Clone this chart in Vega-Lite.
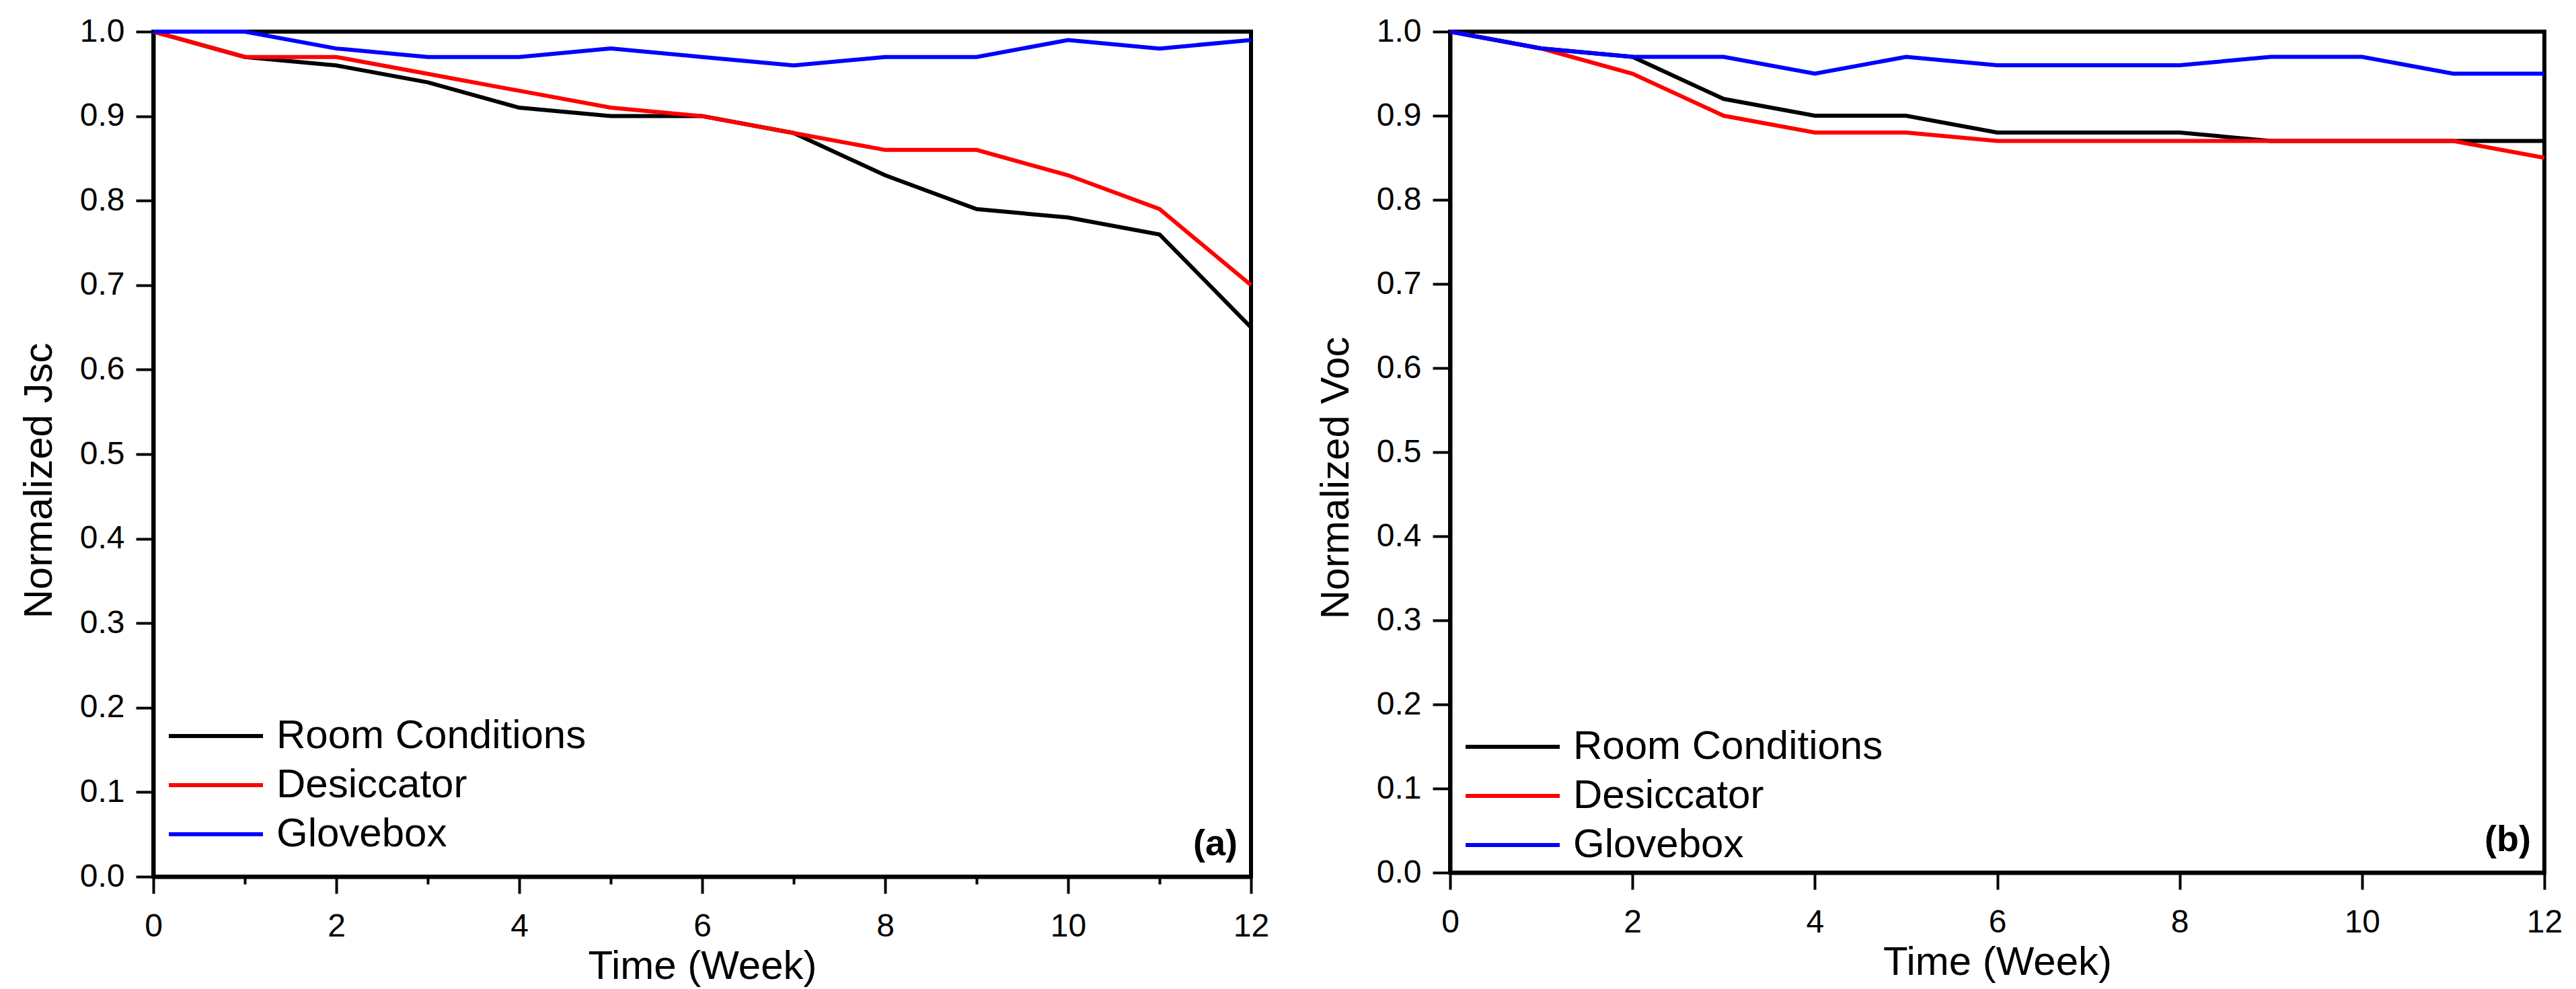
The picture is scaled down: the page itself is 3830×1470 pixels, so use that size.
{
  "$schema": "https://vega.github.io/schema/vega-lite/v6.json",
  "description": "Normalized Jsc and Voc of devices stored under room conditions, in a desiccator and in a glovebox over 12 weeks",
  "background": "white",
  "padding": {"left": 25, "top": 20, "right": 20, "bottom": 10},
  "datasets": {
    "jsc": [
      {"week": 0, "value": 1.0, "condition": "Room Conditions"},
      {"week": 1, "value": 0.97, "condition": "Room Conditions"},
      {"week": 2, "value": 0.96, "condition": "Room Conditions"},
      {"week": 3, "value": 0.94, "condition": "Room Conditions"},
      {"week": 4, "value": 0.91, "condition": "Room Conditions"},
      {"week": 5, "value": 0.90, "condition": "Room Conditions"},
      {"week": 6, "value": 0.90, "condition": "Room Conditions"},
      {"week": 7, "value": 0.88, "condition": "Room Conditions"},
      {"week": 8, "value": 0.83, "condition": "Room Conditions"},
      {"week": 9, "value": 0.79, "condition": "Room Conditions"},
      {"week": 10, "value": 0.78, "condition": "Room Conditions"},
      {"week": 11, "value": 0.76, "condition": "Room Conditions"},
      {"week": 12, "value": 0.65, "condition": "Room Conditions"},
      {"week": 0, "value": 1.0, "condition": "Desiccator"},
      {"week": 1, "value": 0.97, "condition": "Desiccator"},
      {"week": 2, "value": 0.97, "condition": "Desiccator"},
      {"week": 3, "value": 0.95, "condition": "Desiccator"},
      {"week": 4, "value": 0.93, "condition": "Desiccator"},
      {"week": 5, "value": 0.91, "condition": "Desiccator"},
      {"week": 6, "value": 0.90, "condition": "Desiccator"},
      {"week": 7, "value": 0.88, "condition": "Desiccator"},
      {"week": 8, "value": 0.86, "condition": "Desiccator"},
      {"week": 9, "value": 0.86, "condition": "Desiccator"},
      {"week": 10, "value": 0.83, "condition": "Desiccator"},
      {"week": 11, "value": 0.79, "condition": "Desiccator"},
      {"week": 12, "value": 0.70, "condition": "Desiccator"},
      {"week": 0, "value": 1.0, "condition": "Glovebox"},
      {"week": 1, "value": 1.0, "condition": "Glovebox"},
      {"week": 2, "value": 0.98, "condition": "Glovebox"},
      {"week": 3, "value": 0.97, "condition": "Glovebox"},
      {"week": 4, "value": 0.97, "condition": "Glovebox"},
      {"week": 5, "value": 0.98, "condition": "Glovebox"},
      {"week": 6, "value": 0.97, "condition": "Glovebox"},
      {"week": 7, "value": 0.96, "condition": "Glovebox"},
      {"week": 8, "value": 0.97, "condition": "Glovebox"},
      {"week": 9, "value": 0.97, "condition": "Glovebox"},
      {"week": 10, "value": 0.99, "condition": "Glovebox"},
      {"week": 11, "value": 0.98, "condition": "Glovebox"},
      {"week": 12, "value": 0.99, "condition": "Glovebox"}
    ],
    "voc": [
      {"week": 0, "value": 1.0, "condition": "Room Conditions"},
      {"week": 1, "value": 0.98, "condition": "Room Conditions"},
      {"week": 2, "value": 0.97, "condition": "Room Conditions"},
      {"week": 3, "value": 0.92, "condition": "Room Conditions"},
      {"week": 4, "value": 0.90, "condition": "Room Conditions"},
      {"week": 5, "value": 0.90, "condition": "Room Conditions"},
      {"week": 6, "value": 0.88, "condition": "Room Conditions"},
      {"week": 7, "value": 0.88, "condition": "Room Conditions"},
      {"week": 8, "value": 0.88, "condition": "Room Conditions"},
      {"week": 9, "value": 0.87, "condition": "Room Conditions"},
      {"week": 10, "value": 0.87, "condition": "Room Conditions"},
      {"week": 11, "value": 0.87, "condition": "Room Conditions"},
      {"week": 12, "value": 0.87, "condition": "Room Conditions"},
      {"week": 0, "value": 1.0, "condition": "Desiccator"},
      {"week": 1, "value": 0.98, "condition": "Desiccator"},
      {"week": 2, "value": 0.95, "condition": "Desiccator"},
      {"week": 3, "value": 0.90, "condition": "Desiccator"},
      {"week": 4, "value": 0.88, "condition": "Desiccator"},
      {"week": 5, "value": 0.88, "condition": "Desiccator"},
      {"week": 6, "value": 0.87, "condition": "Desiccator"},
      {"week": 7, "value": 0.87, "condition": "Desiccator"},
      {"week": 8, "value": 0.87, "condition": "Desiccator"},
      {"week": 9, "value": 0.87, "condition": "Desiccator"},
      {"week": 10, "value": 0.87, "condition": "Desiccator"},
      {"week": 11, "value": 0.87, "condition": "Desiccator"},
      {"week": 12, "value": 0.85, "condition": "Desiccator"},
      {"week": 0, "value": 1.0, "condition": "Glovebox"},
      {"week": 1, "value": 0.98, "condition": "Glovebox"},
      {"week": 2, "value": 0.97, "condition": "Glovebox"},
      {"week": 3, "value": 0.97, "condition": "Glovebox"},
      {"week": 4, "value": 0.95, "condition": "Glovebox"},
      {"week": 5, "value": 0.97, "condition": "Glovebox"},
      {"week": 6, "value": 0.96, "condition": "Glovebox"},
      {"week": 7, "value": 0.96, "condition": "Glovebox"},
      {"week": 8, "value": 0.96, "condition": "Glovebox"},
      {"week": 9, "value": 0.97, "condition": "Glovebox"},
      {"week": 10, "value": 0.97, "condition": "Glovebox"},
      {"week": 11, "value": 0.95, "condition": "Glovebox"},
      {"week": 12, "value": 0.95, "condition": "Glovebox"}
    ],
    "tagA": [{"week": 12, "value": 0, "tag": "(a)"}],
    "tagB": [{"week": 12, "value": 0, "tag": "(b)"}]
  },
  "spacing": 296,
  "bounds": "flush",
  "resolve": {"legend": {"color": "independent"}},
  "hconcat": [
    {
      "width": 1632,
      "height": 1256,
      "layer": [
        {
          "data": {"name": "jsc"},
          "mark": {"type": "line", "strokeWidth": 6},
          "encoding": {
            "x": {
              "field": "week", "type": "quantitative",
              "scale": {"domain": [0, 12], "nice": false},
              "axis": {
                "title": "Time (Week)",
                "values": [0, 1, 2, 3, 4, 5, 6, 7, 8, 9, 10, 11, 12],
                "format": "d",
                "labelExpr": "datum.value % 2 === 0 ? datum.label : ''",
                "tickSize": {"condition": {"test": "datum.value % 2 !== 0", "value": 11}, "value": 25},
                "labelPadding": 25,
                "titlePadding": 6
              }
            },
            "y": {
              "field": "value", "type": "quantitative",
              "scale": {"domain": [0, 1], "nice": false},
              "axis": {
                "title": "Normalized Jsc",
                "values": [0, 0.1, 0.2, 0.3, 0.4, 0.5, 0.6, 0.7, 0.8, 0.9, 1.0],
                "format": ".1f",
                "tickSize": 26,
                "labelPadding": 17,
                "titlePadding": 29,
                "titleY": 667
              }
            },
            "color": {
              "field": "condition", "type": "nominal",
              "scale": {"domain": ["Room Conditions", "Desiccator", "Glovebox"], "range": ["#000000", "#ff0000", "#0000ff"]},
              "legend": {"legendY": 1014}
            }
          }
        },
        {
          "data": {"name": "tagA"},
          "mark": {"type": "text", "align": "right", "baseline": "alphabetic", "dx": -20, "dy": -32, "fontSize": 54, "fontWeight": "bold", "color": "black"},
          "encoding": {
            "x": {"field": "week", "type": "quantitative"},
            "y": {"field": "value", "type": "quantitative"},
            "text": {"field": "tag"}
          }
        }
      ]
    },
    {
      "width": 1627,
      "height": 1250,
      "layer": [
        {
          "data": {"name": "voc"},
          "mark": {"type": "line", "strokeWidth": 6},
          "encoding": {
            "x": {
              "field": "week", "type": "quantitative",
              "scale": {"domain": [0, 12], "nice": false},
              "axis": {
                "title": "Time (Week)",
                "values": [0, 2, 4, 6, 8, 10, 12],
                "format": "d",
                "tickSize": 25,
                "labelPadding": 25,
                "titlePadding": 6
              }
            },
            "y": {
              "field": "value", "type": "quantitative",
              "scale": {"domain": [0, 1], "nice": false},
              "axis": {
                "title": "Normalized Voc",
                "values": [0, 0.1, 0.2, 0.3, 0.4, 0.5, 0.6, 0.7, 0.8, 0.9, 1.0],
                "format": ".1f",
                "tickSize": 26,
                "labelPadding": 17,
                "titlePadding": 29,
                "titleY": 663
              }
            },
            "color": {
              "field": "condition", "type": "nominal",
              "scale": {"domain": ["Room Conditions", "Desiccator", "Glovebox"], "range": ["#000000", "#ff0000", "#0000ff"]},
              "legend": {"legendY": 1030}
            }
          }
        },
        {
          "data": {"name": "tagB"},
          "mark": {"type": "text", "align": "right", "baseline": "alphabetic", "dx": -20, "dy": -32, "fontSize": 54, "fontWeight": "bold", "color": "black"},
          "encoding": {
            "x": {"field": "week", "type": "quantitative"},
            "y": {"field": "value", "type": "quantitative"},
            "text": {"field": "tag"}
          }
        }
      ]
    }
  ],
  "config": {
    "font": "Liberation Sans",
    "view": {"stroke": "black", "strokeWidth": 6},
    "axis": {
      "grid": false,
      "domainColor": "black",
      "domainWidth": 6,
      "tickColor": "black",
      "tickWidth": 4,
      "labelColor": "black",
      "labelFontSize": 48,
      "labelFont": "Liberation Sans",
      "labelFlush": false,
      "titleColor": "black",
      "titleFont": "Liberation Sans",
      "titleFontSize": 60,
      "titleFontWeight": "normal"
    },
    "legend": {
      "orient": "none",
      "legendX": 20,
      "title": null,
      "padding": 0,
      "symbolType": "M-1,0H3.667",
      "symbolSize": 3600,
      "symbolStrokeWidth": 6,
      "labelFontSize": 60,
      "labelFont": "Liberation Sans",
      "labelColor": "black",
      "labelLimit": 0,
      "labelOffset": 97,
      "rowPadding": 10
    }
  }
}
